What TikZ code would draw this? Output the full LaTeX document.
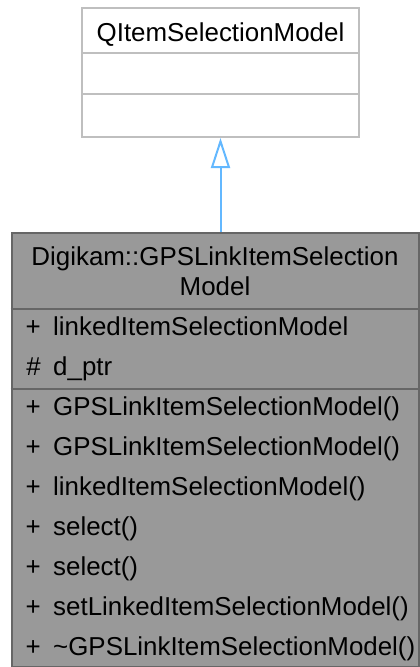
\documentclass[tikz,border=0pt]{standalone}
\usepackage{fontspec}
\setmainfont{Liberation Sans}
\usetikzlibrary{arrows.meta,positioning}
\definecolor{inheritblue}{HTML}{63B8FF}
\definecolor{basegray}{HTML}{BFBFBF}
\definecolor{classfill}{HTML}{999999}
\definecolor{classline}{HTML}{666666}
\tikzset{
  basebox/.style={draw=basegray, line width=2pt, fill=white, inner sep=0pt,
    minimum width=277pt, minimum height=129pt},
  classbox/.style={draw=classline, line width=2pt, fill=classfill, inner sep=0pt,
    minimum width=407pt, minimum height=434pt},
  label/.style={inner sep=0pt, font=\fontsize{25.9}{30}\selectfont},
  member/.style={label, anchor=base west},
  heading/.style={label, anchor=base},
  inherit/.style={draw=inheritblue, line width=2pt,
    -{Triangle[open, length=30pt, width=19pt, fill=white]}},
}
\begin{document}
\begin{tikzpicture}[x=1pt,y=-1pt]
\useasboundingbox (0,0) rectangle (420,667);
% base class
\node[basebox] (qism) at (220.5,72.5) {};
\node[heading] (qismname) at (220.5,41) {QItemSelectionModel};
\draw[basegray, line width=2pt] (qism.west |- 0,53) -- (qism.east |- 0,53);
\draw[basegray, line width=2pt] (qism.west |- 0,94) -- (qism.east |- 0,94);
% derived class
\node[classbox] (gps) at (215,450) {};
\node[heading] (gpsname) at (215,265) {Digikam::GPSLinkItemSelection};
\node[heading] (gpsname2) at (215,295) {Model};
\draw[classline, line width=2pt] (gps.west |- 0,309) -- (gps.east |- 0,309);
\draw[classline, line width=2pt] (gps.west |- 0,389) -- (gps.east |- 0,389);
% attributes
\node[member] (a0) at (53,335) {linkedItemSelectionModel};
\node[member] (a1) at (53,375) {d\_ptr};
\node[member, left=12pt of a0.base west, anchor=base east] {+};
\node[member, left=12pt of a1.base west, anchor=base east] {\#};
% methods
\foreach \sig [count=\i from 0] in {GPSLinkItemSelectionModel(),
    GPSLinkItemSelectionModel(), linkedItemSelectionModel(), select(),
    select(), setLinkedItemSelectionModel(),
    \textasciitilde GPSLinkItemSelectionModel()} {
  \node[member] (m\i) at (53,{415+40*\i}) {\sig};
  \node[member, left=12pt of m\i.base west, anchor=base east] {+};
}
% inheritance
\draw[inherit] (qism.south |- gps.north) -- (qism.south);
\end{tikzpicture}
\end{document}
